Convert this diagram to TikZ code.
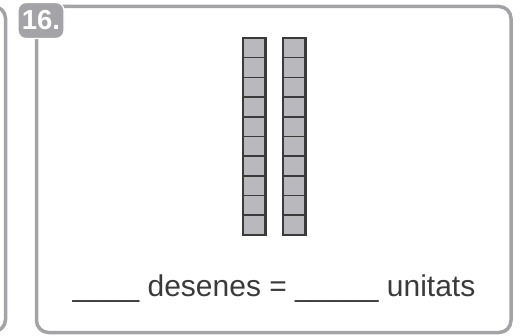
\documentclass[tikz,border=0pt]{standalone}
\usepackage{fontspec}
\setmainfont{Liberation Sans}
\usetikzlibrary{positioning}
\definecolor{FrameGray}{HTML}{A3A3A8}
\definecolor{TenGray}{HTML}{B9B9BD}
\definecolor{LineDark}{HTML}{3A3A3A}

\begin{document}
\begin{tikzpicture}[x=1pt, y=-1pt,
          frame/.style={draw=FrameGray, line width=3.5pt, rounded corners=12pt},
          tab/.style={fill=FrameGray, draw=white, line width=1.2pt, rounded corners=8pt, minimum width=46pt, minimum height=36pt, inner sep=0pt, text=white, font=\fontsize{27.5}{27.5}\selectfont\bfseries},
          cell/.style={draw=LineDark, fill=TenGray, line width=1.6pt, minimum width=23pt, minimum height=19.7pt, inner sep=0pt},
          answer/.style={font=\fontsize{30}{30}\selectfont, text=LineDark, inner sep=0pt}
        ]
          \useasboundingbox (0,0) rectangle (521,336);
          \clip (0,0) rectangle (521,336);
          % edge of the previous exercise
          \draw[frame] (-30,6.5) -- (5.5,6.5) -- (5.5,331.5) -- (-30,331.5);
          % exercise frame and number
          \draw[frame] (36.5,6.5) rectangle (511,332.5);
          \node[tab] (num) at (41,20.5) {16.};
          % two tens rods
          \foreach \i in {0,...,9} {
            \node[cell] (l\i) at (254.5,{47.85+\i*19.7}) {};
            \node[cell] (r\i) at (294.5,{47.85+\i*19.7}) {};
          }
          \draw[LineDark, line width=0.8pt] ([xshift=-2.5pt]l0.north east) -- ([xshift=-2.5pt]l9.south east);
          \draw[LineDark, line width=0.8pt] ([xshift=-2.5pt]r0.north east) -- ([xshift=-2.5pt]r9.south east);
          \node[answer, anchor=base] (sentence) at (274,296) {\_\_\_\_ desenes = \_\_\_\_\_ unitats};
        \end{tikzpicture}
\end{document}
